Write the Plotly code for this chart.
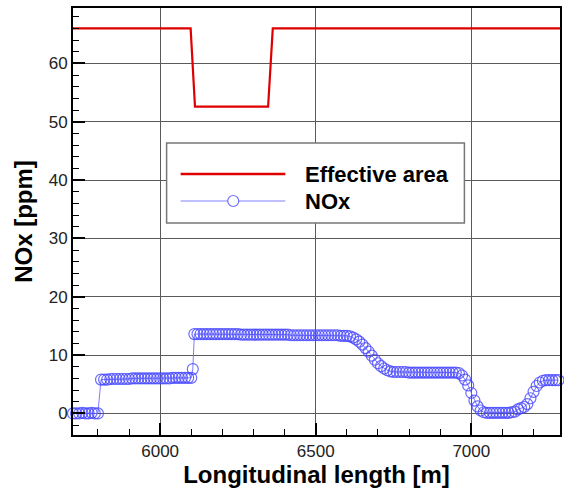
import plotly.graph_objects as go

# Effective area profile along the tunnel
area_x = [5720, 6098, 6112, 6347, 6362, 7285]
area_y = [66.0, 66.0, 52.6, 52.6, 66.0, 66.0]

# NOx concentration samples (10 m spacing, with one extra sample at the step)
nox_x = list(range(5720, 6101, 10)) + [6105] + list(range(6110, 7281, 10))
nox_y = (
    # 5720 - 5800
    [0.0, 0.0, 0.0, 0.1, 0.0, 0.0, 0.1, 0.0, 0.0]
    # 5810 - 6100
    + [5.8, 5.8, 5.8, 5.9, 5.9, 5.9, 5.9, 5.9, 5.9, 5.9,
       6.0, 6.0, 6.0, 6.0, 6.0, 6.0, 6.0, 6.0, 6.0, 6.0,
       6.0, 6.0, 6.0, 6.1, 6.1, 6.1, 6.1, 6.1, 6.1, 6.1]
    # 6105
    + [7.6]
    # 6110 - 6600
    + [13.6, 13.6, 13.6, 13.6, 13.6, 13.6, 13.6, 13.6, 13.6, 13.6,
       13.6, 13.6, 13.6, 13.6, 13.6, 13.5, 13.5, 13.5, 13.5, 13.5,
       13.5, 13.5, 13.5, 13.5, 13.5, 13.5, 13.5, 13.5, 13.5, 13.5,
       13.5, 13.4, 13.4, 13.4, 13.4, 13.4, 13.4, 13.4, 13.4, 13.4,
       13.4, 13.4, 13.4, 13.4, 13.4, 13.4, 13.4, 13.3, 13.3, 13.3]
    # 6610 - 6750
    + [13.2, 13.0, 12.7, 12.3, 11.8, 11.2, 10.6, 9.9, 9.2, 8.6,
       8.1, 7.7, 7.4, 7.2, 7.1]
    # 6760 - 6960
    + [7.1, 7.1, 7.1, 7.1, 7.0, 7.0, 7.0, 7.0, 7.0, 7.0,
       7.0, 7.0, 7.0, 7.0, 7.0, 7.0, 7.0, 7.0, 7.0, 7.0, 6.9]
    # 6970 - 7050
    + [6.5, 5.8, 4.8, 3.5, 2.2, 1.2, 0.5, 0.2, 0.1]
    # 7060 - 7130
    + [0.1, 0.1, 0.1, 0.1, 0.1, 0.1, 0.1, 0.2]
    # 7140 - 7280
    + [0.3, 0.7, 0.9, 1.1, 1.6, 2.6, 3.7, 4.7, 5.3, 5.6,
       5.7, 5.7, 5.7, 5.7, 5.7]
)

x_ticks = [6000, 6500, 7000]
y_ticks = [0, 10, 20, 30, 40, 50, 60]

FONT = "Liberation Sans, Arial, sans-serif"
RED = "rgb(222,0,0)"
BLUE = "rgb(80,80,255)"

fig = go.Figure()

fig.add_trace(go.Scatter(
    x=area_x, y=area_y, mode="lines", name="Effective area",
    line=dict(color=RED, width=2.2), showlegend=False,
))

fig.add_trace(go.Scatter(
    x=nox_x, y=nox_y, mode="lines+markers", name="NOx",
    line=dict(color="rgba(110,110,255,0.9)", width=1),
    marker=dict(symbol="circle-open", size=11,
                color="rgba(70,70,255,0.8)", line=dict(width=1.2)),
    cliponaxis=False, showlegend=False,
))

axis_common = dict(
    showline=True, linecolor="black", linewidth=2, mirror=True,
    ticks="inside", ticklen=12, tickwidth=2, tickcolor="black",
    showgrid=True, gridcolor="#5a5a5a", gridwidth=1,
    zeroline=False,
    tickfont=dict(family=FONT, size=17, color="#222"),
)

fig.update_xaxes(
    range=[5720, 7285], tickvals=x_ticks,
    minor=dict(ticks="inside", ticklen=6, tickwidth=1, tickcolor="black",
               dtick=100, tick0=5700, showgrid=False),
    title=dict(text="<b>Longitudinal length [m]</b>", standoff=4,
               font=dict(family=FONT, size=24, color="black")),
    **axis_common,
)
fig.update_yaxes(
    range=[-3.7, 69.5], tickvals=y_ticks,
    minor=dict(ticks="inside", ticklen=6, tickwidth=1, tickcolor="black",
               dtick=2, tick0=0, showgrid=False),
    title=dict(text="<b>NOx [ppm]</b>", standoff=9,
               font=dict(family=FONT, size=24, color="black")),
    **axis_common,
)

# Legend box drawn in paper coordinates
shapes = [
    dict(type="rect", xref="paper", yref="paper", x0=0.1922, x1=0.8037,
         y0=0.4965, y1=0.6838, fillcolor="white",
         line=dict(color="#777", width=1.5), layer="above"),
    dict(type="line", xref="paper", yref="paper", x0=0.221, x1=0.436,
         y0=0.6112, y1=0.6112, line=dict(color=RED, width=2.5), layer="above"),
    dict(type="line", xref="paper", yref="paper", x0=0.221, x1=0.436,
         y0=0.548, y1=0.548, line=dict(color="rgb(130,130,255)", width=1.2),
         layer="above"),
    dict(type="circle", xref="paper", yref="paper", xsizemode="pixel",
         ysizemode="pixel", xanchor=0.329, yanchor=0.548,
         x0=-5.5, x1=5.5, y0=-5.5, y1=5.5, fillcolor="white",
         line=dict(color="rgb(110,110,255)", width=1.2), layer="above"),
]
annotations = [
    dict(xref="paper", yref="paper", x=0.4724, y=0.6112, xanchor="left",
         yanchor="middle", showarrow=False, text="<b>Effective area</b>",
         font=dict(family=FONT, size=22, color="black")),
    dict(xref="paper", yref="paper", x=0.4724, y=0.548, xanchor="left",
         yanchor="middle", showarrow=False, text="<b>NOx</b>",
         font=dict(family=FONT, size=22, color="black")),
]

fig.update_layout(
    width=564, height=488,
    margin=dict(l=73, r=2, t=8, b=53),
    paper_bgcolor="white", plot_bgcolor="white",
    shapes=shapes, annotations=annotations,
    font=dict(family=FONT),
)

fig.write_html("out.html")
